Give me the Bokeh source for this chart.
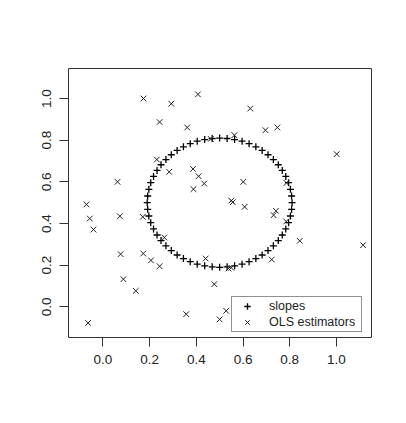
from bokeh.plotting import figure
from bokeh.models import Range1d, Legend, LegendItem, FixedTicker, NumeralTickFormatter
from bokeh.embed import file_html
from bokeh.resources import INLINE

# slopes (points on a circle)
slopes_x = [0.810, 0.808, 0.803, 0.795, 0.783, 0.768, 0.751, 0.730, 0.707, 0.682, 0.655, 0.626, 0.596, 0.564, 0.532,
            0.500, 0.468, 0.436, 0.404, 0.374, 0.345, 0.318, 0.293, 0.270, 0.249, 0.232, 0.217, 0.205, 0.197, 0.192,
            0.190, 0.192, 0.197, 0.205, 0.217, 0.232, 0.249, 0.270, 0.293, 0.318, 0.345, 0.374, 0.404, 0.436, 0.468,
            0.500, 0.532, 0.564, 0.596, 0.626, 0.655, 0.682, 0.707, 0.730, 0.751, 0.768, 0.783, 0.795, 0.803, 0.808]
slopes_y = [0.500, 0.532, 0.564, 0.596, 0.626, 0.655, 0.682, 0.707, 0.730, 0.751, 0.768, 0.783, 0.795, 0.803, 0.808,
            0.810, 0.808, 0.803, 0.795, 0.783, 0.768, 0.751, 0.730, 0.707, 0.682, 0.655, 0.626, 0.596, 0.564, 0.532,
            0.500, 0.468, 0.436, 0.404, 0.374, 0.345, 0.318, 0.293, 0.270, 0.249, 0.232, 0.217, 0.205, 0.197, 0.192,
            0.190, 0.192, 0.197, 0.205, 0.217, 0.232, 0.249, 0.270, 0.293, 0.318, 0.345, 0.374, 0.404, 0.436, 0.468]

# OLS estimators
ols_x = [0.174, 0.293, 0.407, 0.631, 0.243, 0.361, 0.696, 0.747, 0.563, 0.462, 1.001, 0.231, 0.284, 0.386, 0.410,
         0.434, 0.388, 0.601, 0.550, 0.556, 0.607, 0.741, 0.731, 0.786, 0.785, 0.063, -0.070, -0.056, 0.073, 0.171,
         -0.040, 0.263, 0.843, 1.114, 0.076, 0.173, 0.206, 0.243, 0.440, 0.723, 0.538, 0.550, 0.088, 0.141, 0.477,
         0.357, 0.500, 0.528, -0.063]
ols_y = [1.000, 0.975, 1.020, 0.952, 0.887, 0.861, 0.848, 0.861, 0.824, 0.806, 0.733, 0.707, 0.648, 0.662, 0.627,
         0.592, 0.565, 0.600, 0.510, 0.502, 0.480, 0.461, 0.440, 0.595, 0.410, 0.600, 0.492, 0.424, 0.435, 0.432,
         0.371, 0.333, 0.317, 0.296, 0.253, 0.256, 0.223, 0.195, 0.232, 0.227, 0.184, 0.188, 0.133, 0.077, 0.109,
         -0.035, -0.060, -0.019, -0.077]

x_ticks = [0.0, 0.2, 0.4, 0.6, 0.8, 1.0]
y_ticks = [0.0, 0.2, 0.4, 0.6, 0.8, 1.0]
legend_labels = ["slopes", "OLS estimators"]

p = figure(frame_width=303, frame_height=269, output_backend="svg", toolbar_location=None,
           x_range=Range1d(-0.147, 1.150), y_range=Range1d(-0.147, 1.144),
           min_border_left=68, min_border_right=19, min_border_top=68, min_border_bottom=70)
p.background_fill_color = "white"
p.border_fill_color = "white"
p.outline_line_color = "#333333"
p.outline_line_width = 1
p.xgrid.visible = False
p.ygrid.visible = False

r_slopes = p.scatter(slopes_x, slopes_y, marker="cross", size=7, line_color="black", line_width=1.3)
r_ols = p.scatter(ols_x, ols_y, marker="x", size=8, line_color="#222222", line_width=1)

for ax, ticks in ((p.xaxis[0], x_ticks), (p.yaxis[0], y_ticks)):
    ax.ticker = FixedTicker(ticks=ticks)
    ax.formatter = NumeralTickFormatter(format="0.0")
    ax.axis_line_color = None
    ax.major_tick_out = 9
    ax.major_tick_in = 0
    ax.minor_tick_line_color = None
    ax.major_tick_line_color = "#333333"
    ax.major_label_text_font = "Liberation Sans"
    ax.major_label_text_font_size = "13.5px"
    ax.major_label_text_color = "#222222"
    ax.major_label_standoff = 8
p.yaxis[0].major_label_orientation = "parallel"

legend = Legend(items=[LegendItem(label=legend_labels[0], renderers=[r_slopes]),
                       LegendItem(label=legend_labels[1], renderers=[r_ols])],
                location=(163, 5))
legend.glyph_height = 16
legend.glyph_width = 28
legend.label_height = 10
legend.spacing = -6
legend.padding = 1
legend.margin = 0
legend.label_standoff = 8
legend.label_width = 91
legend.label_text_font = "Liberation Sans"
legend.label_text_font_size = "12.5px"
legend.label_text_color = "#222222"
legend.border_line_color = "#222222"
legend.border_line_width = 1
legend.background_fill_alpha = 1
p.add_layout(legend)

open("out.html", "w").write(file_html(p, INLINE))
